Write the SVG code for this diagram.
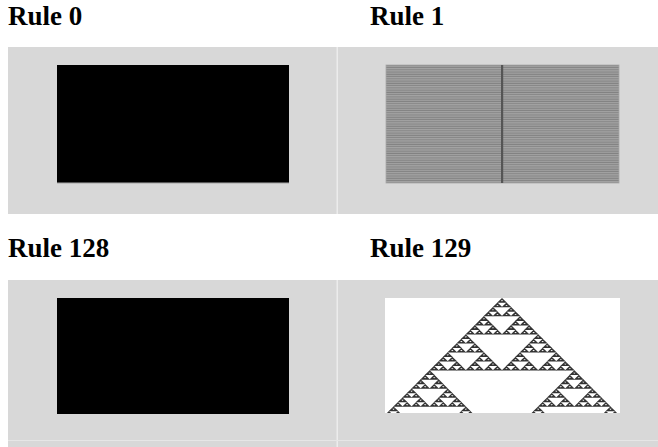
<svg xmlns="http://www.w3.org/2000/svg" width="658" height="447" viewBox="0 0 658 447">
<style>
.title{font-family:"Liberation Serif","Times New Roman",serif;font-weight:bold;font-size:27px;fill:#000}
.panel{fill:#d8d8d8}
.div{fill:#ececec}
.black{fill:#000}
</style>
<defs>
<pattern id="stripes" x="0" y="65" width="10" height="2.26" patternUnits="userSpaceOnUse">
<rect width="10" height="1.13" fill="#828282"/>
<rect y="1.13" width="10" height="1.13" fill="#989898"/>
</pattern>
<path id="s2" d="M0 0 L-4.4 4.25 L4.4 4.25 Z M-1.1 2.1 L1.1 2.1 L0 3.1 Z" fill="#333" fill-rule="evenodd"/>
<g id="s3"><use href="#s2"/><use href="#s2" x="-4" y="4"/><use href="#s2" x="4" y="4"/></g>
<g id="s4"><use href="#s3"/><use href="#s3" x="-8" y="8"/><use href="#s3" x="8" y="8"/></g>
<g id="s5"><use href="#s4"/><use href="#s4" x="-16" y="16"/><use href="#s4" x="16" y="16"/></g>
<g id="s6"><use href="#s5"/><use href="#s5" x="-32" y="32"/><use href="#s5" x="32" y="32"/></g>
<g id="s7"><use href="#s6"/><use href="#s6" x="-64" y="64"/><use href="#s6" x="64" y="64"/></g>
<clipPath id="clip129"><rect x="385" y="298" width="235" height="115"/></clipPath>
</defs>
<rect width="658" height="447" fill="#fff"/>

<g id="rule0">
<text class="title" x="8" y="25">Rule 0</text>
<rect class="panel" x="8" y="47" width="329" height="167"/>
<rect class="black" x="57" y="65" width="232" height="118"/>
<rect x="57" y="182" width="232" height="1.2" fill="#555"/>
</g>

<g id="rule1">
<text class="title" x="370" y="25">Rule 1</text>
<rect class="panel" x="337" y="47" width="321" height="167"/>
<rect class="div" x="336.5" y="47" width="1.5" height="167"/>
<rect x="386" y="65" width="233" height="118" fill="url(#stripes)"/>
<rect x="386" y="65" width="233" height="118" fill="none" stroke="#a8a8a8" stroke-width="0.8"/>
<rect x="501" y="65" width="2.2" height="118" fill="#555"/>
</g>

<g id="rule128">
<text class="title" x="8" y="257">Rule 128</text>
<rect class="panel" x="8" y="280" width="329" height="167"/>
<rect class="black" x="57" y="298" width="232" height="116"/>
</g>

<g id="rule129">
<text class="title" x="370" y="257">Rule 129</text>
<rect class="panel" x="337" y="280" width="321" height="167"/>
<rect class="div" x="336.5" y="280" width="1.5" height="167"/>
<rect x="385" y="298" width="235" height="115" fill="#fff"/>
<g clip-path="url(#clip129)">
<use href="#s7" transform="translate(502,298) scale(1.13)"/>
</g>
</g>
<rect x="8" y="440" width="650" height="1" fill="#e6e6e6"/>
</svg>
